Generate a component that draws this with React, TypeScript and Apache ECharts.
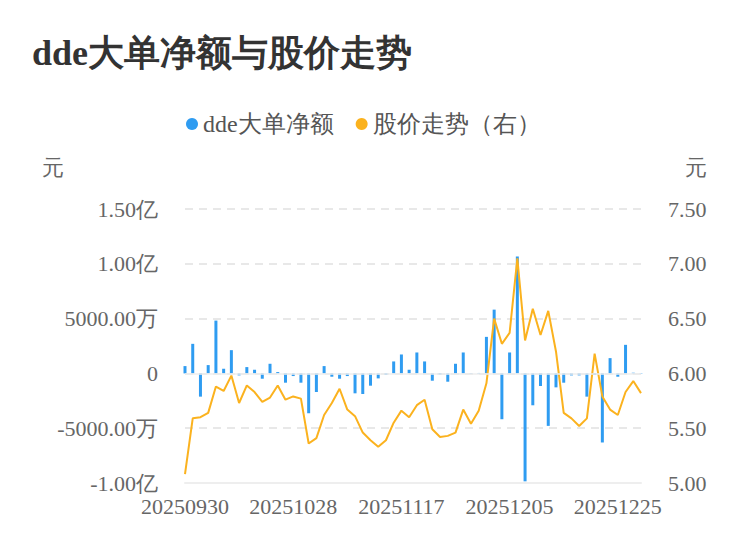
import React, { useEffect, useRef } from "react";
import * as echarts from "echarts";

const dates = [
  "20250930", "20251009", "20251010", "20251013", "20251014", "20251015", "20251016", "20251017",
  "20251020", "20251021", "20251022", "20251023", "20251024", "20251027", "20251028", "20251029",
  "20251030", "20251031", "20251103", "20251104", "20251105", "20251106", "20251107", "20251110",
  "20251111", "20251112", "20251113", "20251114", "20251117", "20251118", "20251119", "20251120",
  "20251121", "20251124", "20251125", "20251126", "20251127", "20251128", "20251201", "20251202",
  "20251203", "20251204", "20251205", "20251208", "20251209", "20251210", "20251211", "20251212",
  "20251215", "20251216", "20251217", "20251218", "20251219", "20251222", "20251223", "20251224",
  "20251225", "20251226", "20251229", "20251230",
];

// dde大单净额, unit: 万元
const ddeNet = [
  667, 2697, -2121, 758, 4818, 424, 2121, -182, 576, 333,
  -485, 879, 121, -848, -242, -848, -3636, -1697, 667, -303,
  -485, -242, -1818, -1879, -1121, -455, -121, 1091, 1727, 333,
  1909, 1091, -667, -91, -758, 879, 1909, 30, 40, 3333,
  5818, -4182, 1909, 10667, -9848, -2909, -1152, -4788, -1273, -848,
  -182, -182, -2121, -121, -6303, 1394, -303, 2606, 60, 30,
];

// 股价, unit: 元
const price = [
  5.08, 5.59, 5.60, 5.64, 5.88, 5.84, 5.98, 5.73, 5.89, 5.83,
  5.74, 5.78, 5.89, 5.76, 5.79, 5.77, 5.36, 5.41, 5.62, 5.73,
  5.86, 5.67, 5.61, 5.46, 5.39, 5.33, 5.39, 5.55, 5.66, 5.60,
  5.71, 5.76, 5.49, 5.42, 5.43, 5.46, 5.67, 5.54, 5.66, 5.91,
  6.50, 6.27, 6.37, 7.05, 6.30, 6.59, 6.35, 6.57, 6.20, 5.64,
  5.59, 5.52, 5.59, 6.18, 5.79, 5.67, 5.62, 5.83, 5.93, 5.82,
];

const FONT = "serif";

function fmtLeft(v: number): string {
  if (v === 0) return "0";
  if (Math.abs(v) >= 10000) return (v / 10000).toFixed(2) + "亿";
  return v.toFixed(2) + "万";
}

export default function App() {
  const ref = useRef<HTMLDivElement>(null);
  useEffect(() => {
    document.body.style.margin = "0";
    const chart = echarts.init(ref.current!, undefined, { renderer: "svg" });
    chart.setOption({
      animation: false,
      textStyle: { fontFamily: FONT },
      title: {
        text: "dde大单净额与股价走势",
        left: 27,
        top: 30,
        textStyle: { fontSize: 36, fontWeight: "bold", color: "#333", fontFamily: FONT },
      },
      legend: {
        left: 181,
        top: 107,
        icon: "circle",
        itemWidth: 12,
        itemHeight: 12,
        itemGap: 22,
        textStyle: { fontSize: 24, color: "#555", fontFamily: FONT },
        data: ["dde大单净额", "股价走势（右）"],
      },
      graphic: [
        { type: "text", left: 42, top: 156, style: { text: "元", fontSize: 22, fill: "#666", fontFamily: FONT } },
        { type: "text", left: 685, top: 156, style: { text: "元", fontSize: 22, fill: "#666", fontFamily: FONT } },
      ],
      grid: { left: 185, right: 109, top: 209, bottom: 75, containLabel: false },
      xAxis: {
        type: "category",
        data: dates,
        boundaryGap: false,
        axisLine: { onZero: false, lineStyle: { color: "#eeeeee", width: 2 } },
        axisTick: { show: false },
        axisLabel: { interval: 13, fontSize: 22, color: "#666", margin: 12, fontFamily: FONT },
      },
      yAxis: [
        {
          type: "value",
          min: -10000,
          max: 15000,
          interval: 5000,
          axisLine: { show: false },
          axisTick: { show: false },
          axisLabel: { fontSize: 22, color: "#666", margin: 27, formatter: fmtLeft, fontFamily: FONT },
          splitLine: { lineStyle: { type: [8, 6], color: "#e8e8e8", width: 2 } },
        },
        {
          type: "value",
          min: 5,
          max: 7.5,
          interval: 0.5,
          axisLine: { show: false },
          axisTick: { show: false },
          axisLabel: { fontSize: 22, color: "#666", margin: 27, formatter: (v: number) => v.toFixed(2), fontFamily: FONT },
          splitLine: { show: false },
        },
      ],
      series: [
        {
          name: "dde大单净额",
          type: "bar",
          data: ddeNet,
          barWidth: 3,
          itemStyle: { color: "#2f9cf1" },
          markLine: {
            silent: true,
            symbol: "none",
            label: { show: false },
            lineStyle: { color: "#eeeeee", type: "solid", width: 1.5 },
            data: [{ yAxis: 0 }],
          },
        },
        {
          name: "股价走势（右）",
          type: "line",
          yAxisIndex: 1,
          data: price,
          symbol: "none",
          lineStyle: { color: "#fbb21e", width: 2 },
          itemStyle: { color: "#fbb21e" },
        },
      ],
    });
    return () => chart.dispose();
  }, []);
  return <div ref={ref} style={{ width: 750, height: 558 }} />;
}
